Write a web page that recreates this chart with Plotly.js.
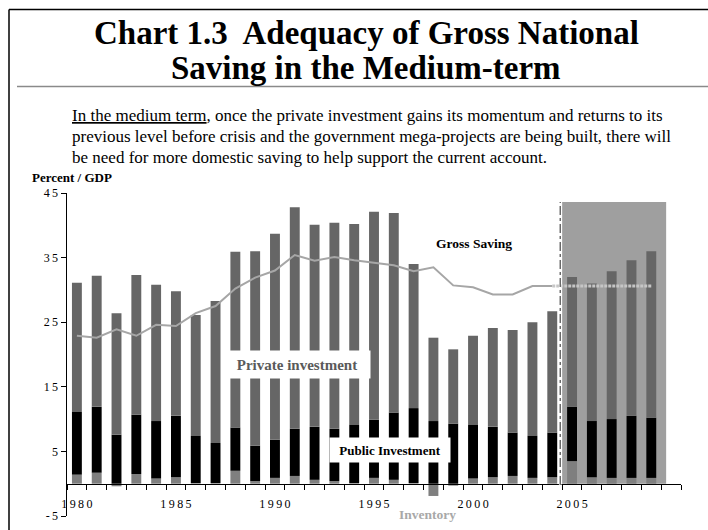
<!DOCTYPE html>
<html>
<head>
<meta charset="utf-8">
<script src="https://cdn.plot.ly/plotly-3.0.1.min.js"></script>
<style>html,body{margin:0;padding:0;background:#fff;}#chart{width:708px;height:530px;}</style>
</head>
<body>
<div id="chart"></div>
<script>
// ---- data (percent of GDP) ----
const years = [1980,1981,1982,1983,1984,1985,1986,1987,1988,1989,1990,1991,1992,1993,1994,1995,1996,1997,1998,1999,2000,2001,2002,2003,2004,2005,2006,2007,2008,2009];
const inventory = [1.4,1.7,-0.4,1.5,0.8,1.0,0.1,0.1,2.0,0.4,0.9,1.2,0.6,0.4,0.1,0.9,0.6,0.1,-1.9,-0.3,0.8,1.0,1.2,0.9,1.0,3.5,1.0,0.9,0.9,0.9];
const publicInv = [9.7,10.2,7.6,9.2,8.9,9.5,7.3,6.2,6.7,5.5,5.9,7.3,8.2,8.1,9.0,9.0,10.4,11.6,9.7,9.3,8.3,7.8,6.7,6.5,6.9,8.4,8.7,9.1,9.6,9.3];
const privateInv = [20.0,20.3,18.8,21.6,21.1,19.3,18.7,22.0,27.2,30.1,31.9,34.3,31.3,31.9,31.1,32.2,30.9,22.3,12.9,11.5,13.8,15.3,15.9,17.6,18.8,20.1,21.3,22.9,24.1,25.8];
const savingYears = [1980,1981,1982,1983,1984,1985,1986,1987,1988,1989,1990,1991,1992,1993,1994,1995,1996,1997,1998,1999,2000,2001,2002,2003,2004];
const grossSaving = [22.9,22.6,23.9,22.9,24.6,24.4,26.4,27.5,30.2,31.9,33.0,35.4,34.5,35.1,34.6,34.2,33.8,32.9,33.5,30.7,30.4,29.3,29.3,30.6,30.6];
const projYears = [2004,2005,2006,2007,2008,2009];
const projSaving = [30.6,30.6,30.6,30.6,30.6,30.6];
const forecastStart = 2005;
const yTickVals = [-5,5,15,25,35,45];
const xTickVals = [1980,1985,1990,1995,2000,2005];

const titleLines = ['Chart 1.3  Adequacy of Gross National', 'Saving in the Medium-term'];
const paragraphLines = [
  '<span style="text-decoration:underline">In the medium term</span>, once the private investment gains its momentum and returns to its',
  'previous level before crisis and the government mega-projects are being built, there will',
  'be need for more domestic saving to help support the current account.'
];

const FONT = 'Liberation Serif, Times New Roman, serif';
const spaced = v => String(v).split('').join('\u2009');

// pixel -> paper helpers for page decorations (plot area 67..681 x 193..516)
const PL = 67, PR = 681, PT = 193, PB = 516;
const px = x => (x - PL) / (PR - PL);
const py = y => (PB - y) / (PB - PT);

const traces = [
  {type:'bar', x:years, y:inventory, width:0.5, marker:{color:'#7f7f7f'}, name:'Inventory'},
  {type:'bar', x:years, y:publicInv, width:0.5, marker:{color:'#000000'}, name:'Public Investment'},
  {type:'bar', x:years, y:privateInv, width:0.5, marker:{color:'#666666'}, name:'Private investment'},
  {type:'scatter', mode:'lines', x:savingYears, y:grossSaving, line:{color:'#a6a6a6', width:2}, name:'Gross Saving'},
  {type:'scatter', mode:'lines', x:projYears, y:projSaving, line:{color:'#c6c6c6', width:3, dash:'3px,1px'}, name:'Gross Saving (projection)'}
];

const lastYear = years[years.length-1];
const shapes = [
  {type:'rect', xref:'x', yref:'y', x0:forecastStart-0.5, x1:lastYear+0.75, y0:0, y1:43.6, fillcolor:'#9f9f9f', line:{width:0}, layer:'below'},
  {type:'line', xref:'x', yref:'y', x0:forecastStart-0.6, x1:forecastStart-0.6, y0:-0.2, y1:43.6, line:{color:'#ffffff', width:2.5}},
  {type:'line', xref:'x', yref:'y', x0:forecastStart-0.6, x1:forecastStart-0.6, y0:-0.2, y1:43.6, line:{color:'#222222', width:1, dash:'dashdot'}},
  {type:'line', xref:'paper', yref:'paper', x0:px(9), x1:px(708), y0:py(9.5), y1:py(9.5), line:{color:'#000', width:1.5}},
  {type:'line', xref:'paper', yref:'paper', x0:px(9), x1:px(9), y0:py(9.5), y1:py(531), line:{color:'#000', width:1.5}},
  {type:'line', xref:'paper', yref:'paper', x0:px(17), x1:px(708), y0:py(86.5), y1:py(86.5), line:{color:'#8a8a8a', width:1.5}}
];

const paraY = [116, 136.5, 157];
const annotations = paragraphLines.map((t, i) => ({
  xref:'paper', yref:'paper', x:px(70), y:py(paraY[i]), xanchor:'left', yanchor:'middle', align:'left', showarrow:false,
  text:t, font:{family:FONT, size:17, color:'#000'}
})).concat([
  {xref:'paper', yref:'paper', x:px(366), y:py(33), xanchor:'center', yanchor:'middle', showarrow:false,
   text:'<b>'+titleLines[0]+'</b>', font:{family:FONT, size:33, color:'#000'}},
  {xref:'paper', yref:'paper', x:px(366), y:py(68), xanchor:'center', yanchor:'middle', showarrow:false,
   text:'<b>'+titleLines[1]+'</b>', font:{family:FONT, size:33, color:'#000'}},
  {xref:'paper', yref:'paper', x:px(30), y:py(177), xanchor:'left', yanchor:'middle', showarrow:false,
   text:'<b>Percent / GDP</b>', font:{family:FONT, size:13, color:'#000'}},
  {xref:'x', yref:'y', x:2000.05, y:37.2, showarrow:false, text:'<b>Gross Saving</b>', font:{family:FONT, size:13.5, color:'#000'}},
  {xref:'x', yref:'y', x:1991.1, y:18.5, showarrow:false, text:'<b>Private investment</b>', font:{family:FONT, size:15, color:'#5a5a5a'},
   bgcolor:'#ffffff', width:134, height:15, borderpad:6},
  {xref:'x', yref:'y', x:1995.8, y:5.25, showarrow:false, text:'<b>Public Investment</b>', font:{family:FONT, size:13, color:'#000'},
   bgcolor:'#ffffff', width:110, height:14, borderpad:5},
  {xref:'x', yref:'y', x:1997.7, y:-4.7, showarrow:false, text:'<b>Inventory</b>', font:{family:FONT, size:13.5, color:'#a8a8a8'}}
]);

const layout = {
  width:708, height:530,
  margin:{l:PL, r:708-PR, t:PT, b:530-PB, pad:0},
  paper_bgcolor:'#ffffff', plot_bgcolor:'#ffffff',
  showlegend:false,
  barmode:'relative',
  xaxis:{type:'linear', range:[1979.5, 2010.5], anchor:'free', position:0.1,
         showline:true, linecolor:'#000', linewidth:1.5, showgrid:false, zeroline:false,
         tickmode:'array', tickvals:xTickVals, ticktext:xTickVals.map(spaced),
         ticks:'outside', ticklen:8, tickcolor:'rgba(0,0,0,0)',
         tickfont:{family:FONT, size:12, color:'#000'},
         minor:{ticks:'outside', ticklen:5, tickwidth:1, tickcolor:'#000', tickmode:'linear', tick0:1979.5, dtick:1, showgrid:false}},
  yaxis:{range:[-5,45], showline:true, linecolor:'#000', linewidth:1.5, showgrid:false, zeroline:false,
         tickmode:'array', tickvals:yTickVals, ticktext:yTickVals.map(spaced),
         ticks:'outside', ticklen:5, tickcolor:'#000', tickfont:{family:FONT, size:12, color:'#000'}},
  shapes:shapes,
  annotations:annotations
};

Plotly.newPlot('chart', traces, layout, {staticPlot:true, displayModeBar:false});
</script>
</body>
</html>
